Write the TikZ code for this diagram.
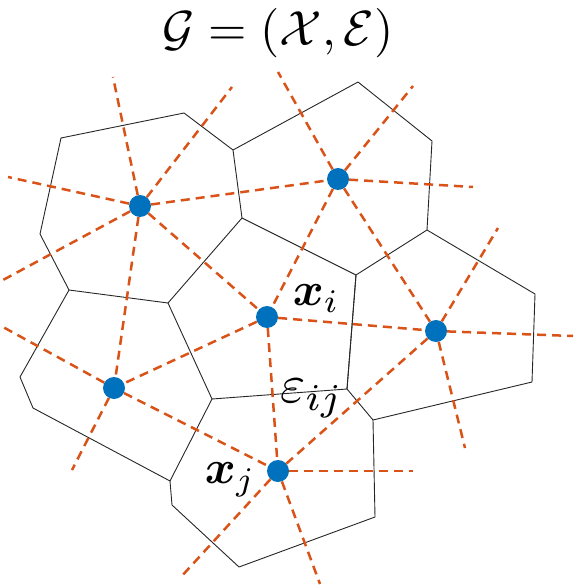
\documentclass[tikz,border=0pt]{standalone}
\usepackage{amsmath}
\definecolor{blueD}{RGB}{0,114,189}
\definecolor{orangeD}{RGB}{217,83,25}
\begin{document}
\begin{tikzpicture}[x=1pt,y=-1pt,
  cell/.style={draw=black!85, line width=0.9pt, line join=round},
  link/.style={draw=orangeD, dash pattern=on 9pt off 6pt, line width=2.5pt},
  site/.style={circle, fill=blueD, inner sep=0pt, minimum size=22pt},
  lab/.style={inner sep=0pt, scale=4.7}]
\useasboundingbox (0,0) rectangle (578,588);
% cell vertices
\coordinate (v1) at (61,138);
\coordinate (v2) at (184,113);
\coordinate (v3) at (233,150);
\coordinate (v4) at (242,218);
\coordinate (v5) at (168,303);
\coordinate (v6) at (69,290);
\coordinate (v7) at (40,234);
\coordinate (v8) at (358,82);
\coordinate (v9) at (432,141);
\coordinate (v10) at (427,230);
\coordinate (v11) at (356,275);
\coordinate (v12) at (535,294);
\coordinate (v13) at (532,382);
\coordinate (v14) at (373,420);
\coordinate (v15) at (347,389);
\coordinate (v16) at (212,399);
\coordinate (v17) at (170,481);
\coordinate (v18) at (33,408);
\coordinate (v19) at (20,377);
\coordinate (v20) at (375,517);
\coordinate (v21) at (239,567);
\coordinate (v22) at (172,505);
% cells
\draw[cell] (v1) -- (v2) -- (v3) -- (v4) -- (v5) -- (v6) -- (v7) -- cycle;
\draw[cell] (v3) -- (v8) -- (v9) -- (v10) -- (v11) -- (v4);
\draw[cell] (v10) -- (v12) -- (v13) -- (v14) -- (v15) -- (v11);
\draw[cell] (v11) -- (v15) -- (v16) -- (v5);
\draw[cell] (v16) -- (v17) -- (v18) -- (v19) -- (v6);
\draw[cell] (v14) -- (v20) -- (v21) -- (v22) -- (v17);
% sites
\node[site] (A) at (140,206) {};
\node[site] (B) at (338,179) {};
\node[site] (C) at (267,317) {};
\node[site] (D) at (436,331) {};
\node[site] (E) at (114,388) {};
\node[site] (F) at (278,471) {};
% free ends of rays
\coordinate (a1) at (113,77);
\coordinate (a2) at (232,87);
\coordinate (a3) at (8,177);
\coordinate (a4) at (3,280);
\coordinate (b1) at (278,72);
\coordinate (b2) at (413,86);
\coordinate (b3) at (473,187);
\coordinate (d1) at (498,228);
\coordinate (d2) at (573,336);
\coordinate (d3) at (465,448);
\coordinate (f1) at (413,471);
\coordinate (f2) at (320,584);
\coordinate (f3) at (180,578);
\coordinate (e1) at (3,327);
\coordinate (e2) at (72,470);
% dual edges
\foreach \s/\t in {A/B, A/C, A/E, B/C, B/D, C/D, C/E, C/F, D/F, E/F,
                   A/a1, A/a2, A/a3, A/a4, B/b1, B/b2, B/b3,
                   D/d1, D/d2, D/d3, F/f1, F/f2, F/f3, E/e1, E/e2}
  \draw[link] (\s) -- (\t);
% labels
\node[lab, scale=1.05, anchor=base] (title) at (278,46) {$\mathcal{G} = (\mathcal{X},\mathcal{E})$};
\node[lab, anchor=base west] (xi) at (292,305) {$\boldsymbol{x}_i$};
\node[lab, scale=1.15, anchor=base west] (eij) at (279,402) {$\varepsilon_{ij}$};
\node[lab, anchor=base west] (xj) at (204,483) {$\boldsymbol{x}_j$};
\end{tikzpicture}
\end{document}
